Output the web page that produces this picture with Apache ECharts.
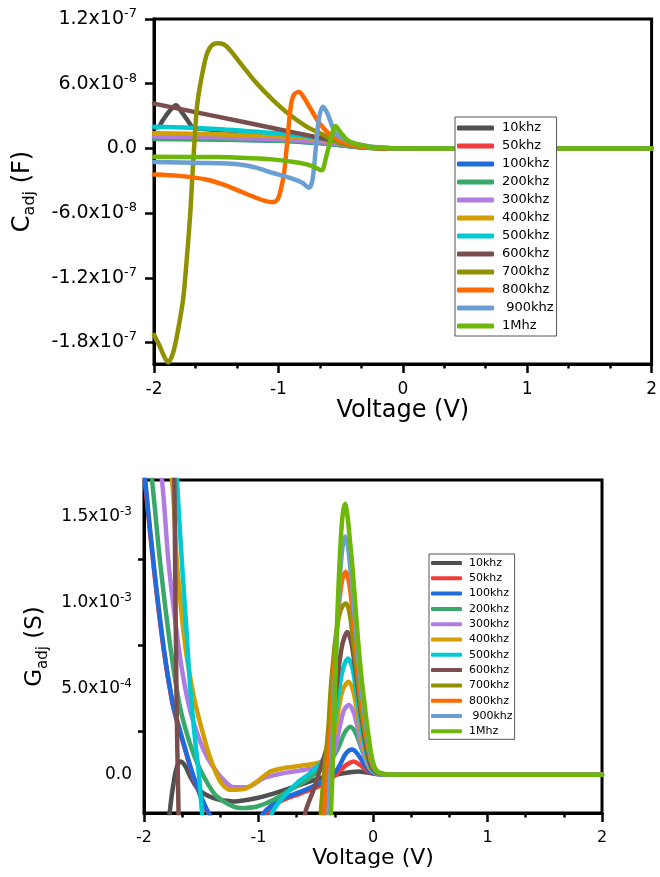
<!DOCTYPE html>
<html>
<head>
<meta charset="utf-8">
<script src="https://cdn.jsdelivr.net/npm/echarts@6/dist/echarts.min.js"></script>
<style>
  html, body { margin: 0; padding: 0; background: #fff; }
  #chart { width: 660px; height: 877px; }
</style>
</head>
<body>
<div id="chart"></div>
<script>
  // legend names and colours, same order in both panels
  var freqNames = ['10khz', '50khz', '100khz', '200khz', '300khz', '400khz', '500khz', '600khz', '700khz', '800khz', ' 900khz', '1Mhz'];
  var lineColors = ['#505050', '#F23C3C', '#1F6BDB', '#3AA86B', '#B07CDF', '#D29E00', '#00C9D2', '#7A4E4E', '#909100', '#FF6A00', '#6B9FD3', '#6CB70A'];

  // top panel: C_adj, [voltage, value in 1e-8 F]
  var cap10k = [[-2,1.95],[-1.968,1.95],[-1.93,2.6],[-1.88,3.4],[-1.824,4.0],[-1.78,3.4],[-1.73,2.6],[-1.689,1.95],[-1.6,1.8],[-1.3,1.55],[-1.0,1.25],[-0.8,0.95],[-0.6,0.6],[-0.45,0.3],[-0.3,0.1],[-0.15,0.02],[0,0],[2,0]];
  var cap50k = [[-2,0.95],[-1.5,0.88],[-1.0,0.75],[-0.7,0.55],[-0.5,0.32],[-0.35,0.12],[-0.2,0.03],[0,0],[2,0]];
  var cap100k = [[-2,0.9],[-1.5,0.84],[-1.0,0.72],[-0.7,0.52],[-0.5,0.3],[-0.35,0.11],[-0.2,0.02],[0,0],[2,0]];
  var cap200k = [[-2,0.88],[-1.5,0.83],[-1.0,0.71],[-0.7,0.51],[-0.5,0.3],[-0.35,0.1],[-0.2,0.02],[0,0],[2,0]];
  var cap300k = [[-2,1.1],[-1.5,1.0],[-1.0,0.85],[-0.7,0.62],[-0.5,0.38],[-0.35,0.14],[-0.2,0.03],[0,0],[2,0]];
  var cap400k = [[-2,1.4],[-1.5,1.3],[-1.0,1.12],[-0.8,0.98],[-0.6,0.72],[-0.45,0.45],[-0.3,0.17],[-0.15,0.04],[0,0],[2,0]];
  var cap500k = [[-2,2.0],[-1.5,1.8],[-1.0,1.38],[-0.8,1.15],[-0.6,0.82],[-0.45,0.5],[-0.3,0.18],[-0.15,0.04],[0,0],[2,0]];
  var cap600k = [[-2,4.15],[-1.5,2.97],[-1.0,1.78],[-0.7,1.05],[-0.55,0.7],[-0.4,0.32],[-0.25,0.08],[-0.1,0.01],[0,0],[2,0]];
  var cap700k = [[-2,-17.3],[-1.952,-18.4],[-1.912,-19.45],[-1.886,-19.85],[-1.846,-18.95],[-1.806,-16.8],[-1.766,-14.0],[-1.739,-10.6],[-1.71,-6.3],[-1.69,-2.26],[-1.67,1.46],[-1.654,3.93],[-1.63,5.8],[-1.58,8.57],[-1.54,9.5],[-1.487,9.75],[-1.42,9.5],[-1.31,7.96],[-1.18,6.1],[-1.05,4.55],[-0.914,3.16],[-0.78,2.07],[-0.648,1.3],[-0.515,0.53],[-0.38,0.19],[-0.25,0.03],[0,0],[2,0]];
  var cap800k = [[-2,-2.42],[-1.8,-2.55],[-1.58,-2.88],[-1.446,-3.34],[-1.31,-3.97],[-1.18,-4.58],[-1.1,-4.89],[-1.05,-4.99],[-1.007,-4.74],[-0.98,-3.8],[-0.954,-2.23],[-0.927,0.84],[-0.9,3.93],[-0.874,5.0],[-0.834,5.23],[-0.794,4.7],[-0.754,3.93],[-0.675,2.42],[-0.568,1.14],[-0.41,0.37],[-0.25,0.05],[0,0],[2,0]];
  var cap900k = [[-2,-1.27],[-1.6,-1.35],[-1.31,-1.49],[-1.18,-1.79],[-1.05,-2.26],[-0.914,-2.72],[-0.808,-3.19],[-0.754,-3.65],[-0.727,-3.0],[-0.70,-0.09],[-0.675,2.7],[-0.643,3.87],[-0.608,3.3],[-0.568,2.07],[-0.545,1.46],[-0.515,1.14],[-0.409,0.53],[-0.25,0.15],[-0.1,0.02],[0,0],[2,0]];
  var cap1M = [[-2,-0.77],[-1.5,-0.81],[-1.31,-0.86],[-1.05,-1.02],[-0.834,-1.33],[-0.727,-1.64],[-0.653,-2.04],[-0.621,-1.02],[-0.58,0.84],[-0.54,2.07],[-0.5,1.46],[-0.435,0.68],[-0.3,0.21],[-0.12,0.03],[0,0],[2,0]];
  var capTickValues = [-18, -12, -6, 0, 6, 12];
  var capTickText = ['-1.8x10', '-1.2x10', '-6.0x10', '0.0', '6.0x10', '1.2x10'];
  var capTickExp = ['-7', '-7', '-8', '', '-8', '-7'];

  // bottom panel: G_adj, [voltage, value in 1e-4 S]
  var cond10k = [[-2,-8],[-1.82,-5],[-1.776,-2.2],[-1.74,-0.4],[-1.71,0.5],[-1.683,0.76],[-1.64,0.5],[-1.596,-0.11],[-1.523,-0.88],[-1.392,-1.36],[-1.217,-1.56],[-1.013,-1.36],[-0.81,-0.98],[-0.635,-0.59],[-0.46,-0.2],[-0.286,0.05],[-0.2,0.14],[-0.126,0.18],[-0.05,0.12],[0.02,0.05],[0.1,0.01],[0.3,0],[2,0]];
  var cond50k = [[-2,18.0],[-1.989,16.9],[-1.916,12.1],[-1.829,7.3],[-1.755,4.25],[-1.712,3.1],[-1.654,1.75],[-1.61,0.75],[-1.567,-0.2],[-1.45,-2.1],[-1.3,-3.5],[-1.1,-3.8],[-0.95,-2.4],[-0.81,-1.55],[-0.635,-1.1],[-0.46,-0.65],[-0.35,-0.15],[-0.28,0.3],[-0.22,0.62],[-0.169,0.76],[-0.12,0.6],[-0.08,0.38],[-0.04,0.18],[0,0.07],[0.06,0.02],[0.2,0],[2,0]];
  var cond100k = [[-2,18.3],[-1.989,17.1],[-1.916,12.27],[-1.829,7.43],[-1.755,4.34],[-1.712,3.18],[-1.654,1.83],[-1.61,0.8],[-1.567,-0.11],[-1.45,-2.04],[-1.3,-3.4],[-1.1,-3.7],[-0.955,-2.23],[-0.81,-1.46],[-0.635,-1.0],[-0.46,-0.49],[-0.35,0.0],[-0.29,0.55],[-0.24,1.2],[-0.183,1.46],[-0.14,1.25],[-0.1,0.85],[-0.06,0.45],[-0.02,0.17],[0.03,0.05],[0.1,0.01],[0.25,0],[2,0]];
  var cond200k = [[-2,20.5],[-1.93,17.1],[-1.858,12.27],[-1.77,7.43],[-1.698,4.34],[-1.654,3.05],[-1.596,1.75],[-1.552,0.95],[-1.479,-0.1],[-1.363,-1.27],[-1.159,-1.94],[-1.013,-1.85],[-0.868,-1.46],[-0.722,-0.88],[-0.576,-0.3],[-0.431,0.47],[-0.36,0.9],[-0.3,1.6],[-0.25,2.4],[-0.198,2.78],[-0.15,2.4],[-0.096,1.44],[-0.06,0.8],[-0.02,0.35],[0.03,0.1],[0.1,0.02],[0.25,0],[2,0]];
  var cond300k = [[-2,25],[-1.843,17.1],[-1.785,12.27],[-1.698,7.43],[-1.65,5.4],[-1.596,3.7],[-1.508,1.9],[-1.45,1.05],[-1.39,0.4],[-1.334,-0.1],[-1.217,-0.73],[-1.1,-0.73],[-0.955,-0.2],[-0.81,0.05],[-0.635,0.24],[-0.46,0.47],[-0.373,0.72],[-0.34,1.2],[-0.314,2.02],[-0.28,3.1],[-0.25,3.8],[-0.21,4.05],[-0.17,3.65],[-0.14,2.9],[-0.111,2.02],[-0.08,1.25],[-0.052,0.67],[-0.02,0.3],[0.02,0.1],[0.08,0.02],[0.2,0],[2,0]];
  var cond400k = [[-2,30],[-1.755,17.1],[-1.712,12.27],[-1.639,7.43],[-1.567,4.6],[-1.523,3.35],[-1.479,2.25],[-1.421,0.95],[-1.334,-0.4],[-1.246,-0.88],[-1.13,-0.84],[-1.013,-0.4],[-0.897,0.18],[-0.781,0.38],[-0.635,0.51],[-0.489,0.67],[-0.43,0.85],[-0.39,1.1],[-0.35,2.0],[-0.32,3.0],[-0.29,4.2],[-0.26,5.0],[-0.213,5.4],[-0.175,4.9],[-0.145,3.95],[-0.115,2.8],[-0.085,1.75],[-0.055,0.95],[-0.025,0.4],[0.01,0.14],[0.07,0.03],[0.2,0],[2,0]];
  var cond500k = [[-2,45],[-1.76,24],[-1.712,17.1],[-1.668,12.27],[-1.63,8.5],[-1.596,5.0],[-1.552,1.9],[-1.52,0.0],[-1.493,-2.2],[-1.45,-4.5],[-1.2,-7],[-0.95,-4],[-0.882,-2.23],[-0.78,-1.27],[-0.664,-0.49],[-0.548,0.09],[-0.445,0.76],[-0.38,1.7],[-0.34,3.0],[-0.3,4.8],[-0.26,6.2],[-0.218,6.75],[-0.18,6.2],[-0.15,5.0],[-0.12,3.6],[-0.09,2.3],[-0.06,1.3],[-0.03,0.6],[0.005,0.2],[0.06,0.04],[0.2,0],[2,0]];
  var cond600k = [[-2,40],[-1.76,30],[-1.735,17.1],[-1.716,4.34],[-1.698,-2.23],[-1.68,-8],[-1.6,-12],[-0.7,-12],[-0.62,-5],[-0.591,-2.23],[-0.519,-0.88],[-0.445,0.67],[-0.39,1.9],[-0.35,3.5],[-0.31,5.6],[-0.27,7.5],[-0.224,8.3],[-0.19,7.7],[-0.16,6.4],[-0.13,4.8],[-0.1,3.3],[-0.07,2.0],[-0.04,1.0],[-0.01,0.4],[0.03,0.12],[0.1,0.02],[0.25,0],[2,0]];
  var cond700k = [[-2,-12],[-0.5,-12],[-0.455,-2.23],[-0.42,0.5],[-0.39,2.7],[-0.37,4.9],[-0.345,6.8],[-0.32,8.3],[-0.29,9.4],[-0.26,9.85],[-0.233,9.95],[-0.205,9.4],[-0.18,8.2],[-0.15,6.5],[-0.12,4.7],[-0.09,3.2],[-0.06,2.0],[-0.03,1.05],[0,0.45],[0.04,0.14],[0.1,0.03],[0.25,0],[2,0]];
  var cond800k = [[-2,-12],[-0.47,-12],[-0.425,-2.23],[-0.395,0.5],[-0.37,2.6],[-0.35,4.9],[-0.325,7.5],[-0.3,9.7],[-0.27,11.3],[-0.237,11.8],[-0.21,11.2],[-0.185,9.9],[-0.16,8.3],[-0.13,6.1],[-0.1,4.3],[-0.07,2.85],[-0.04,1.65],[-0.01,0.75],[0.02,0.28],[0.06,0.08],[0.12,0.02],[0.3,0],[2,0]];
  var cond900k = [[-2,-12],[-0.43,-12],[-0.388,-2.23],[-0.365,0.8],[-0.35,2.8],[-0.335,5.2],[-0.315,8.3],[-0.29,11.4],[-0.265,13.3],[-0.242,13.85],[-0.218,13.2],[-0.195,11.8],[-0.17,10.0],[-0.133,7.1],[-0.1,4.9],[-0.074,3.55],[-0.04,1.95],[-0.01,0.85],[0.02,0.3],[0.06,0.09],[0.12,0.02],[0.3,0],[2,0]];
  var cond1M = [[-2,-12],[-0.41,-12],[-0.367,-2.23],[-0.352,0.5],[-0.342,2.4],[-0.327,6.1],[-0.307,10.0],[-0.285,13.3],[-0.265,15.1],[-0.244,15.75],[-0.222,15.0],[-0.2,13.5],[-0.176,11.8],[-0.133,8.0],[-0.1,5.6],[-0.074,4.1],[-0.04,2.3],[-0.01,1.0],[0.02,0.35],[0.06,0.1],[0.12,0.02],[0.3,0],[2,0]];
  var condTickValues = [0, 5, 10, 15];
  var condTickText = ['0.0', '5.0x10', '1.0x10', '1.5x10'];
  var condTickExp = ['', '-4', '-3', '-3'];
  var condMinorTicks = [2.5, 7.5, 12.5];

  var capData = [cap10k, cap50k, cap100k, cap200k, cap300k, cap400k, cap500k, cap600k, cap700k, cap800k, cap900k, cap1M];
  var condData = [cond10k, cond50k, cond100k, cond200k, cond300k, cond400k, cond500k, cond600k, cond700k, cond800k, cond900k, cond1M];

  var FONT = 'DejaVu Sans';

  function expFormatter(values, texts, exps) {
    return function (v) {
      for (var i = 0; i < values.length; i++) {
        if (Math.abs(v - values[i]) < 1e-6) {
          return exps[i] ? '{n|' + texts[i] + '}{e|' + exps[i] + '}' : '{n|' + texts[i] + '}';
        }
      }
      return '';
    };
  }

  function xAxisOf(grid, labelSize, nameSize, nameGap) {
    return {
      gridIndex: grid, type: 'value', min: -2, max: 2, interval: 1,
      axisLine: { onZero: false, lineStyle: { color: '#000', width: 3 } },
      axisTick: { length: 9, lineStyle: { color: '#000', width: 2.5 } },
      minorTick: { show: true, splitNumber: 3, length: 4.5, lineStyle: { color: '#000', width: 2.5 } },
      splitLine: { show: false },
      axisLabel: { fontFamily: FONT, fontSize: labelSize, color: '#000', margin: 17 },
      name: 'Voltage (V)', nameLocation: 'middle', nameGap: nameGap,
      nameTextStyle: { fontFamily: FONT, fontSize: nameSize, color: '#000' }
    };
  }

  var series = [];
  freqNames.forEach(function (name, i) {
    series.push({
      name: name, type: 'line', xAxisIndex: 0, yAxisIndex: 0, data: capData[i],
      color: lineColors[i], smooth: 0.3, showSymbol: false, symbol: 'none',
      lineStyle: { width: 4.5, cap: 'round', join: 'round' }
    });
  });
  freqNames.forEach(function (name, i) {
    series.push({
      name: name, type: 'line', xAxisIndex: 1, yAxisIndex: 1, data: condData[i],
      color: lineColors[i], smooth: 0.3, showSymbol: false, symbol: 'none',
      lineStyle: { width: 4.5, cap: 'round', join: 'round' }
    });
  });

  var chart = echarts.init(document.getElementById('chart'));
  chart.setOption({
    animation: false,
    backgroundColor: '#fff',
    grid: [
      { left: 154, top: 19, width: 501, height: 345, show: true, borderColor: '#000', borderWidth: 3 },
      { left: 144, top: 480, width: 458, height: 333, show: true, borderColor: '#000', borderWidth: 3 }
    ],
    xAxis: [xAxisOf(0, 17, 24, 34), xAxisOf(1, 16, 22, 34)],
    yAxis: [
      {
        gridIndex: 0, type: 'value', min: -20, max: 12,
        axisLine: { show: true, onZero: false, lineStyle: { color: '#000', width: 3 } },
        axisTick: { show: true, customValues: capTickValues, length: 9, lineStyle: { color: '#000', width: 2.5 } },
        splitLine: { show: false },
        axisLabel: {
          customValues: capTickValues, margin: 17, color: '#000',
          formatter: expFormatter(capTickValues, capTickText, capTickExp),
          rich: {
            n: { fontFamily: FONT, fontSize: 19, lineHeight: 24, color: '#000' },
            e: { fontFamily: FONT, fontSize: 13, lineHeight: 18, verticalAlign: 'top', color: '#000' }
          }
        },
        name: '{m|C}{s|adj}{m| (F)}', nameLocation: 'middle', nameGap: 116,
        nameTextStyle: {
          rich: {
            m: { fontFamily: FONT, fontSize: 24, lineHeight: 30, color: '#000' },
            s: { fontFamily: FONT, fontSize: 16, lineHeight: 18, verticalAlign: 'bottom', color: '#000' }
          }
        }
      },
      {
        gridIndex: 1, type: 'value', min: -2.23, max: 17.13,
        axisLine: { show: true, onZero: false, lineStyle: { color: '#000', width: 3 } },
        axisTick: { show: true, customValues: condMinorTicks, length: 6, lineStyle: { color: '#000', width: 2.5 } },
        splitLine: { show: false },
        axisLabel: {
          customValues: condTickValues, margin: 12, color: '#000',
          formatter: expFormatter(condTickValues, condTickText, condTickExp),
          rich: {
            n: { fontFamily: FONT, fontSize: 17, lineHeight: 22, color: '#000' },
            e: { fontFamily: FONT, fontSize: 12, lineHeight: 16, verticalAlign: 'top', color: '#000' }
          }
        },
        name: '{m|G}{s|adj}{m| (S)}', nameLocation: 'middle', nameGap: 91,
        nameTextStyle: {
          rich: {
            m: { fontFamily: FONT, fontSize: 23, lineHeight: 30, color: '#000' },
            s: { fontFamily: FONT, fontSize: 15, lineHeight: 18, verticalAlign: 'bottom', color: '#000' }
          }
        }
      }
    ],
    legend: [
      {
        data: freqNames, orient: 'vertical', left: 455, top: 117,
        icon: 'roundRect', itemWidth: 37, itemHeight: 5, itemGap: 4,
        padding: [4, 3, 3, 2], backgroundColor: '#fff', borderColor: '#555', borderWidth: 1,
        textStyle: { fontFamily: FONT, fontSize: 13, lineHeight: 14, color: '#000', padding: [0, 0, 0, 3] }
      },
      {
        data: freqNames, orient: 'vertical', left: 429, top: 554,
        icon: 'roundRect', itemWidth: 31, itemHeight: 4, itemGap: 3.3,
        padding: [3, 2, 2, 2], backgroundColor: '#fff', borderColor: '#555', borderWidth: 1,
        textStyle: { fontFamily: FONT, fontSize: 11, lineHeight: 12, color: '#000', padding: [0, 0, 0, 2] }
      }
    ],
    series: series
  });
</script>
</body>
</html>
